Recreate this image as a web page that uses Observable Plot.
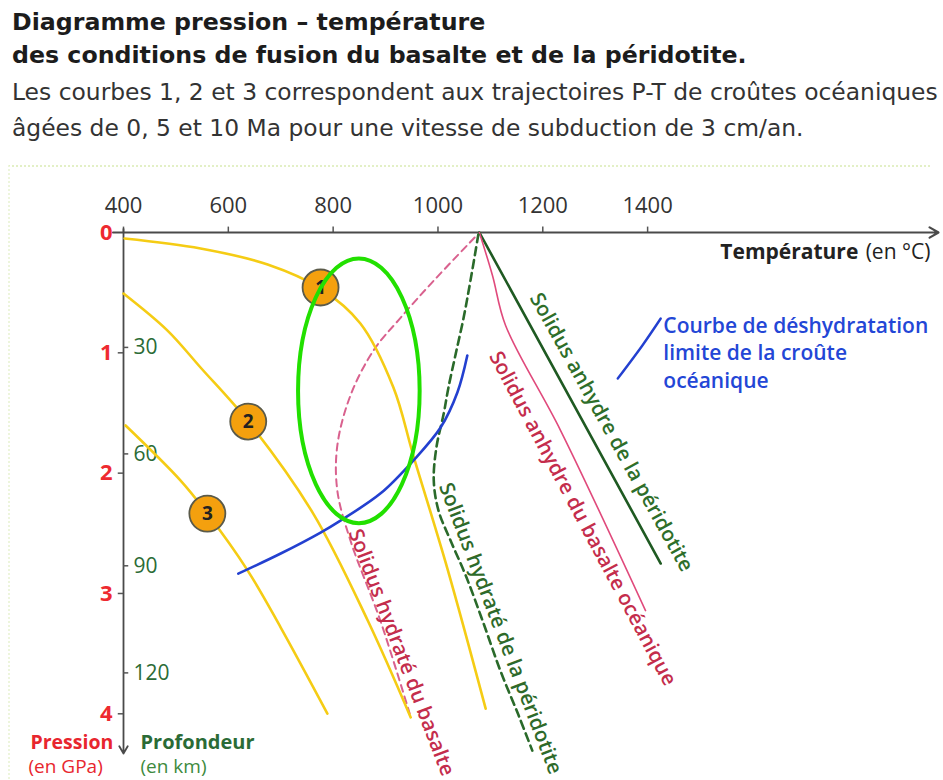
<!DOCTYPE html>
<html>
<head>
<meta charset="utf-8">
<script src="https://cdn.jsdelivr.net/npm/d3@7"></script>
<script src="https://cdn.jsdelivr.net/npm/@observablehq/plot@0.6"></script>
<style>
  body { margin: 0; width: 943px; height: 780px; position: relative; background: #fff; overflow: hidden; font-family: "Open Sans", sans-serif; }
  .t { position: absolute; left: 12px; white-space: nowrap; font-family: "DejaVu Sans", sans-serif; line-height: 30px; }
  .title { font-weight: 700; font-size: 23.7px; color: #1c1c1c; }
  .sub { font-weight: 400; font-size: 23.4px; color: #333; }
  #frame { position: absolute; left: 8px; top: 165px; width: 920px; height: 640px; border-top: 2px dotted #e3f0c6; border-left: 2px dotted #edf5dc; }
  #chart { position: absolute; left: 0; top: 160px; }
</style>
</head>
<body>
<div class="t title" style="top:7px">Diagramme pression – température</div>
<div class="t title" style="top:40px">des conditions de fusion du basalte et de la péridotite.</div>
<div class="t sub" style="top:77px">Les courbes 1, 2 et 3 correspondent aux trajectoires P-T de croûtes océaniques</div>
<div class="t sub" style="top:113px">âgées de 0, 5 et 10 Ma pour une vitesse de subduction de 3 cm/an.</div>
<div id="frame"></div>
<div id="chart"></div>
<script>
// ---- axis ticks ----
const tempTicks = [400, 600, 800, 1000, 1200, 1400];
const pressureTicks = [0, 1, 2, 3, 4];
const depthLabels = [30, 60, 90, 120];
const depthTickP = [0.955, 1.84, 2.77, 3.66];

// ---- P-T trajectories (T in °C, P in GPa) ----
const curve1T = [402, 547, 675, 776, 852, 915, 953, 1018, 1091];
const curve1P = [0.05, 0.133, 0.266, 0.466, 0.756, 1.288, 1.854, 2.793, 3.957];
const curve2T = [400, 484, 547, 638, 762, 866, 948];
const curve2P = [0.507, 0.815, 1.122, 1.571, 2.336, 3.225, 4.03];
const curve3T = [404, 509, 560, 637, 700, 789];
const curve3P = [1.604, 2.062, 2.336, 2.81, 3.283, 3.998];

// markers on the trajectories
const markerT = [776, 638, 560];
const markerP = [0.457, 1.571, 2.336];
const markerLabel = ["1", "2", "3"];

// ---- solidus curves ----
const hydBasaltT = [1070, 992, 929, 877, 833, 808, 808, 833, 890, 946];
const hydBasaltP = [0.042, 0.40, 0.707, 0.981, 1.355, 1.77, 2.145, 2.56, 3.225, 3.998];
const hydPeridT = [1077, 1062, 1049, 1034, 1020, 1011, 997, 992, 1001, 1024, 1053, 1085, 1119, 1154, 1180];
const hydPeridP = [0.017, 0.40, 0.707, 1.006, 1.288, 1.505, 1.787, 2.062, 2.311, 2.56, 2.851, 3.225, 3.641, 4.015, 4.306];
const anhBasaltT = [1079, 1104, 1129, 1234, 1396];
const anhBasaltP = [0, 0.357, 0.773, 1.646, 3.142];
const anhPeridT = [1079, 1425];
const anhPeridP = [0, 2.751];

// ---- dehydration curve ----
const dehydT = [619, 700, 776, 814, 890, 953, 1005, 1037, 1056];
const dehydP = [2.835, 2.668, 2.494, 2.394, 2.17, 1.895, 1.621, 1.33, 1.022];
const leaderT = [1425, 1390, 1343];
const leaderP = [0.715, 0.939, 1.214];

// ---- labels ----
const solidusText = ["Solidus anhydre de la péridotite", "Solidus anhydre du basalte océanique", "Solidus hydraté du basalte", "Solidus hydraté de la péridotite"];
const solidusT = [1331, 1276, 930, 1119];
const solidusP = [1.66, 2.377, 3.49, 3.29];
const solidusAngle = [61, 62, 69, 69];
const solidusColor = ["#2e6e2a", "#c42d4c", "#c42d4c", "#2e6a2a"];

const dehydText = ["Courbe de déshydratation", "limite de la croûte", "océanique"];
const dehydTextT = 1430;
const dehydTextP = [0.78, 1.007, 1.239];

// highlighted zone (ellipse): centre and half-extents
const zoneT = 850, zoneP = 1.32, zoneDT = 116, zoneDP = 1.10;

const zip = (T, P) => T.map((t, i) => ({T: t, P: P[i]}));
const c1 = zip(curve1T, curve1P), c2 = zip(curve2T, curve2P), c3 = zip(curve3T, curve3P);
const markers = markerT.map((t, i) => ({T: t, P: markerP[i], label: markerLabel[i]}));
const hb = zip(hydBasaltT, hydBasaltP), hp = zip(hydPeridT, hydPeridP);
const ab = zip(anhBasaltT, anhBasaltP), ap = zip(anhPeridT, anhPeridP);
const dh = zip(dehydT, dehydP), ld = zip(leaderT, leaderP);
const sol = solidusText.map((s, i) => ({text: s, T: solidusT[i], P: solidusP[i], a: solidusAngle[i], c: solidusColor[i]}));
const dtx = dehydText.map((s, i) => ({text: s, T: dehydTextT, P: dehydTextP[i]}));
const depth = depthLabels.map((d, i) => ({d, P: depthTickP[i]}));

function zoneMark(index, scales) {
  const sx = scales && scales.x, sy = scales && scales.y;
  if (typeof sx !== "function" || typeof sy !== "function") return null;
  const cx = sx(zoneT), cy = sy(zoneP);
  const rx = Math.abs(sx(zoneT + zoneDT) - cx), ry = Math.abs(sy(zoneP + zoneDP) - cy);
  const el = document.createElementNS("http://www.w3.org/2000/svg", "ellipse");
  el.setAttribute("cx", cx); el.setAttribute("cy", cy);
  el.setAttribute("rx", rx); el.setAttribute("ry", ry);
  el.setAttribute("fill", "none"); el.setAttribute("stroke", "#22e000"); el.setAttribute("stroke-width", 4);
  return el;
}

const yellow = "#f5cc14";
const font = "'Open Sans', sans-serif";

const chart = Plot.plot({
  width: 943,
  height: 620,
  marginLeft: 123,
  marginRight: 5,
  marginTop: 72,
  marginBottom: 27,
  style: {fontFamily: font, background: "transparent", overflow: "visible"},
  x: {domain: [400, 1955], axis: null},
  y: {domain: [0, 4.33], reverse: true, axis: null},
  marks: [
    // axes
    Plot.ruleX(tempTicks, {x: d => d, y1: 0, y2: -0.045, stroke: "#555", strokeWidth: 1.5}),
    Plot.text(tempTicks, {x: d => d, y: 0, dy: -27, text: d => String(d), fontSize: 22, fill: "#333"}),
    Plot.arrow([{x1: 380, x2: 1955, y: 0}], {x1: "x1", x2: "x2", y1: "y", y2: "y", stroke: "#4a4a4a", strokeWidth: 2.2, headLength: 7}),
    Plot.arrow([{x: 400, y1: -0.03, y2: 4.33}], {x1: "x", x2: "x", y1: "y1", y2: "y2", stroke: "#4a4a4a", strokeWidth: 1.8, headLength: 7}),
    Plot.ruleY(pressureTicks.slice(1), {y: d => d, x1: 390, x2: 400, stroke: "#555", strokeWidth: 1.5}),
    Plot.text(pressureTicks, {x: 400, y: d => d, dx: -11, text: d => String(d), textAnchor: "end", fontSize: 22, fontWeight: 700, fill: "#ee2a30"}),
    Plot.ruleY(depth, {y: "P", x1: 400, x2: 410, stroke: "#555", strokeWidth: 1.5}),
    Plot.text(depth, {x: 400, y: "P", dx: 10, text: d => String(d.d), textAnchor: "start", fontSize: 21, fill: "#2b6b36"}),
    Plot.text(["Température"], {x: 1802, y: 0.166, text: d => d, textAnchor: "end", fontSize: 21, fontWeight: 700, fill: "#222"}),
    Plot.text(["(en °C)"], {x: 1816, y: 0.166, text: d => d, textAnchor: "start", fontSize: 21, fill: "#222"}),
    Plot.text(["Pression"], {x: 400, y: 4.24, dx: -93, text: d => d, textAnchor: "start", fontSize: 19.5, fontWeight: 700, fill: "#e8262e"}),
    Plot.text(["(en GPa)"], {x: 400, y: 4.44, dx: -95, text: d => d, textAnchor: "start", fontSize: 19, fill: "#e8262e"}),
    Plot.text(["Profondeur"], {x: 400, y: 4.24, dx: 17, text: d => d, textAnchor: "start", fontSize: 20, fontWeight: 700, fill: "#2b6b36"}),
    Plot.text(["(en km)"], {x: 400, y: 4.44, dx: 17, text: d => d, textAnchor: "start", fontSize: 19, fill: "#3d8a3d"}),

    // solidus curves
    Plot.line(ap, {x: "T", y: "P", stroke: "#1f5a22", strokeWidth: 2.6}),
    Plot.line(ab, {x: "T", y: "P", stroke: "#e04a7c", strokeWidth: 1.6, curve: "catmull-rom"}),
    Plot.line(hp, {x: "T", y: "P", stroke: "#2a6a2a", strokeWidth: 2.6, strokeDasharray: "8,5", curve: "catmull-rom"}),
    Plot.line(hb, {x: "T", y: "P", stroke: "#d9618e", strokeWidth: 2, strokeDasharray: "7,5", curve: "catmull-rom"}),

    // trajectories
    Plot.line(c1, {x: "T", y: "P", stroke: yellow, strokeWidth: 2.6, curve: "catmull-rom"}),
    Plot.line(c2, {x: "T", y: "P", stroke: yellow, strokeWidth: 2.6, curve: "catmull-rom"}),
    Plot.line(c3, {x: "T", y: "P", stroke: yellow, strokeWidth: 2.6, curve: "catmull-rom"}),

    // dehydration
    Plot.line(dh, {x: "T", y: "P", stroke: "#2340d0", strokeWidth: 2.6, curve: "catmull-rom"}),
    Plot.line(ld, {x: "T", y: "P", stroke: "#2340d0", strokeWidth: 2.4, curve: "catmull-rom"}),
    Plot.text(dtx, {x: "T", y: "P", text: "text", textAnchor: "start", fontSize: 21, fontWeight: 600, fill: "#2346d6"}),

    // solidus labels
    Plot.text(sol, {x: "T", y: "P", text: "text", rotate: d => d.a, fill: d => d.c, fontSize: 20.5, fontWeight: 600}),

    // markers
    Plot.dot(markers, {x: "T", y: "P", r: 18, fill: "#f4a00e", stroke: "#5a5a4a", strokeWidth: 1.8}),
    Plot.text(markers, {x: "T", y: "P", text: "label", fontSize: 19, fontWeight: 700, fill: "#222"}),

    // highlighted zone
    zoneMark
  ]
});
document.getElementById("chart").appendChild(chart);
</script>
</body>
</html>
